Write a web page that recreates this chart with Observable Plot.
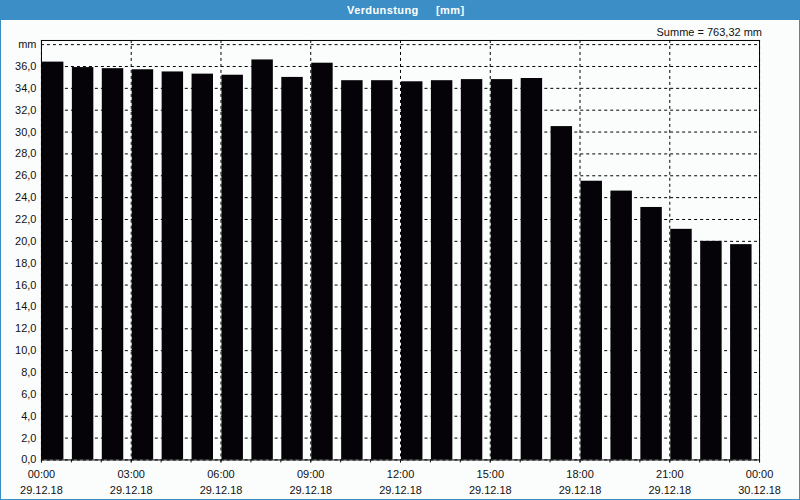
<!DOCTYPE html>
<html><head><meta charset="utf-8">
<script src="https://cdn.jsdelivr.net/npm/d3@7"></script>
<script src="https://cdn.jsdelivr.net/npm/@observablehq/plot@0.6"></script>
<style>
html,body{margin:0;padding:0;background:#fff;}
#page{position:relative;width:798px;height:498px;border:1px solid #3c8fc6;background:#fbfdfd;font-family:"Liberation Sans",Arial,sans-serif;overflow:hidden}
#title{position:relative;height:19px;background:#3c8fc6;color:#fff;font-weight:bold;font-size:11px;line-height:19px;white-space:pre;letter-spacing:0.4px}
#title span{position:absolute;top:0}
#sum{position:absolute;right:37px;top:25px;font-size:11px;color:#111}
#chart{position:absolute;left:-1px;top:19px}
</style>
</head><body>
<div id="page">
  <div id="title"><span id="t1"></span><span id="t2"></span></div>
  <div id="sum"></div>
  <div id="chart"></div>
</div>
<script>
const titleName = "Verdunstung";
const titleUnit = "[mm]";
const sumText = "Summe = 763,32 mm";
const startDate = "2018-12-29T00:00:00Z";
const endDate = "2018-12-30T00:00:00Z";
const values = [36.4, 35.9, 35.8, 35.7, 35.5, 35.3, 35.2, 36.6, 35.0, 36.3, 34.7, 34.7,
                34.6, 34.7, 34.8, 34.8, 34.9, 30.5, 25.5, 24.6, 23.1, 21.1, 20.0, 19.7];
const yTicks = [0,2,4,6,8,10,12,14,16,18,20,22,24,26,28,30,32,34,36];
const yUnitTick = 38;
const yUnitLabel = "mm";

const t1el = document.getElementById("t1");
t1el.textContent = titleName; t1el.style.left = "346px";
const t2el = document.getElementById("t2");
t2el.textContent = titleUnit; t2el.style.left = "435px";
document.getElementById("sum").textContent = sumText;

const t0 = new Date(startDate), t1 = new Date(endDate);
const data = values.map((v, i) => {
  const t = d3.utcHour.offset(t0, i);
  return {t, t2: d3.utcMinute.offset(t, 45), v};
});
const majorX = d3.utcHour.every(3).range(t0, d3.utcHour.offset(t1, 1));
const minorX = d3.utcHour.range(t0, d3.utcHour.offset(t1, 1));
const fmtX = d => d3.utcFormat("%H:%M")(d) + "\n" + d3.utcFormat("%d.%m.%y")(d);
const fmtY = d => d.toFixed(1).replace(".", ",");
const dash = {stroke: "#000", strokeOpacity: 1, strokeDasharray: "3,3", strokeWidth: 1};

const chart = Plot.plot({
  width: 800, height: 480,
  marginLeft: 41, marginRight: 40, marginTop: 20, marginBottom: 40,
  style: {background: "transparent", fontSize: "11px", fontFamily: '"Liberation Sans", Arial, sans-serif', color: "#111"},
  x: {type: "utc", domain: [t0, t1]},
  y: {domain: [0, 38.38]},
  marks: [
    Plot.gridY([...yTicks, yUnitTick], dash),
    Plot.gridX(majorX, dash),
    Plot.rectY(data, {x1: "t", x2: "t2", y: "v", fill: "#050307", insetLeft: 1}),
    Plot.frame({stroke: "#000"}),
    Plot.axisY(yTicks, {tickSize: 0, tickPadding: 5, tickFormat: fmtY, label: null}),
    Plot.text([{y: yUnitTick, s: yUnitLabel}], {y: "y", text: "s", frameAnchor: "left", dx: -5, textAnchor: "end", fill: "#111"}),
    Plot.axisX(minorX, {tickSize: 3, tickFormat: () => "", label: null}),
    Plot.axisX(majorX, {tickSize: 3, tickPadding: 4, tickFormat: fmtX, lineHeight: 1.45, label: null})
  ]
});
document.getElementById("chart").appendChild(chart);
</script>
</body></html>
